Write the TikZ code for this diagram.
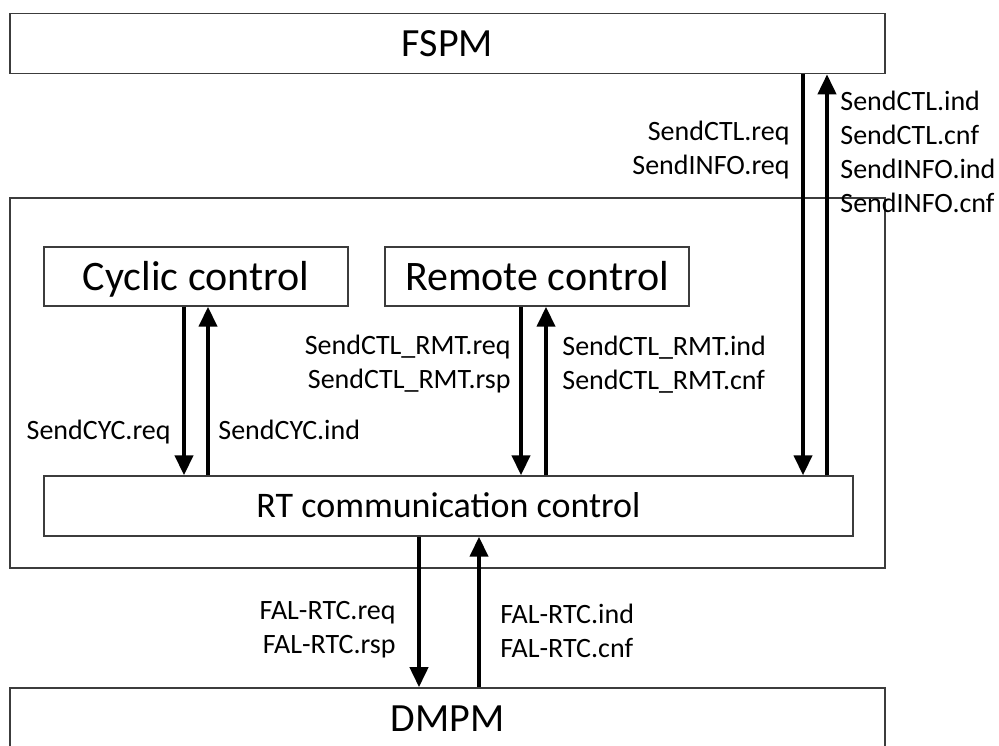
\documentclass[tikz,border=0pt]{standalone}
\usepackage{fontspec}
\setmainfont{Carlito}
\usetikzlibrary{arrows.meta, positioning, calc}

\definecolor{boxline}{RGB}{60, 60, 60}

\tikzset{
  layerbox/.style={draw=boxline, line width=0.8pt, inner sep=0pt,
    minimum width=437.5pt, minimum height=30pt,
    text height=13pt, text depth=0pt,
    font=\fontsize{20}{24}\selectfont},
  funcbox/.style={draw=boxline, line width=0.7pt, inner sep=0pt,
    minimum height=29.5pt, text height=13.5pt, text depth=0pt,
    font=\fontsize{21}{25}\selectfont},
  prim/.style={inner sep=0pt, font=\fontsize{14}{17}\selectfont},
  arr/.style={-{Triangle[width=9pt, length=10pt]}, line width=2pt}
}

\begin{document}
\begin{tikzpicture}[x=0.5pt, y=-0.5pt]
        \useasboundingbox (0,0) rectangle (999,745);
        \clip (0,0) rectangle (999,745);

        % layers
        \node[layerbox] (fspm) at (447.5, 43.5) {FSPM};
        \node[draw=boxline, line width=0.7pt, inner sep=0pt,
              minimum width=437.5pt, minimum height=185pt] (rtl) at (447.5, 383) {};
        \node[layerbox] (dmpm) at (447.5, 718) {DMPM};

        % functions inside
        \node[funcbox, minimum width=152pt] (cyc) at (196, 276.5) {Cyclic control};
        \node[funcbox, minimum width=152pt] (rmt) at (537, 276.5) {Remote control};
        \node[funcbox, minimum width=404.5pt, minimum height=30pt,
              text height=11.6pt, font=\fontsize{18}{22}\selectfont]
              (rtc) at (448.5, 506) {RT communication control};

        % primitives
        \draw[arr] (184,0 |- cyc.south) -- (184,0 |- rtc.north);
        \draw[arr] (208,0 |- rtc.north) -- (208,0 |- cyc.south);
        \draw[arr] (521,0 |- rmt.south) -- (521,0 |- rtc.north);
        \draw[arr] (546,0 |- rtc.north) -- (546,0 |- rmt.south);
        \draw[arr] (803,0 |- fspm.south) -- (803,0 |- rtc.north);
        \draw[arr] (827,0 |- rtc.north) -- (827,0 |- fspm.south);
        \draw[arr] (419,0 |- rtc.south) -- (419,0 |- dmpm.north);
        \draw[arr] (479,0 |- dmpm.north) -- (479,0 |- rtc.south);

        \node[prim, anchor=east, align=right] (ctlreq) at (790, 150)
          {SendCTL.req\\SendINFO.req};
        \node[prim, anchor=west, align=left] (ctlind) at (840, 151.5)
          {SendCTL.ind\\SendCTL.cnf\\SendINFO.ind\\SendINFO.cnf};
        \node[prim, anchor=base east] (cycreq) at (171, 439) {SendCYC.req};
        \node[prim, anchor=base west] (cycind) at (218, 439) {SendCYC.ind};
        \node[prim, anchor=east, align=right] (rmtreq) at (511, 364)
          {SendCTL\_RMT.req\\SendCTL\_RMT.rsp};
        \node[prim, anchor=west, align=left] (rmtind) at (562, 365)
          {SendCTL\_RMT.ind\\SendCTL\_RMT.cnf};
        \node[prim, anchor=east, align=right] (falreq) at (396, 629.5)
          {FAL-RTC.req\\FAL-RTC.rsp};
        \node[prim, anchor=west, align=left] (falind) at (500, 631)
          {FAL-RTC.ind\\FAL-RTC.cnf};
      \end{tikzpicture}
\end{document}
